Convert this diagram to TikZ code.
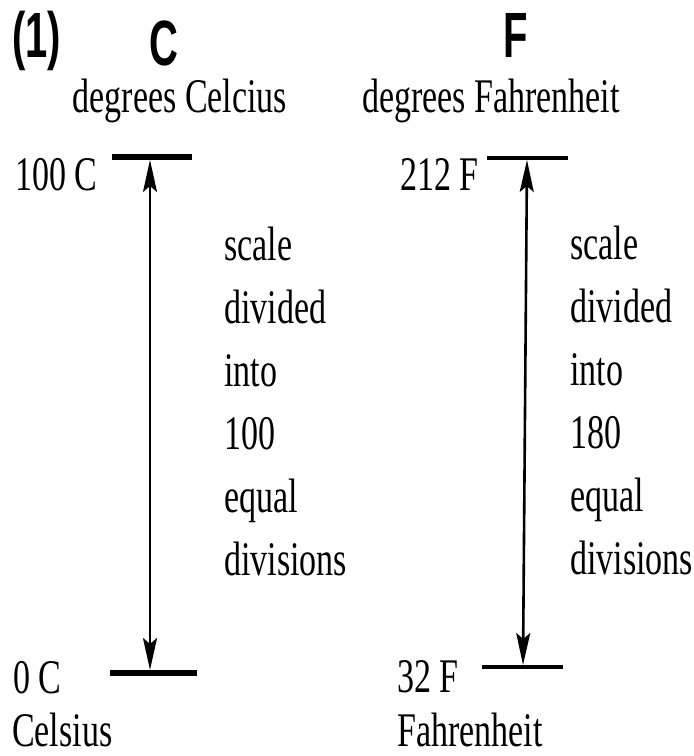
\documentclass[tikz,border=0pt]{standalone}
\usepackage{fontspec}
\setmainfont{Liberation Serif}
\newfontfamily\hdfont{Liberation Sans}
\usetikzlibrary{arrows.meta}
\begin{document}
\begin{tikzpicture}[x=1pt,y=1pt,
  txt/.style={inner sep=0pt, yscale=1.42, font=\fontsize{34}{44.5}\selectfont},
  hd/.style={inner sep=0pt, yscale=1.6, font=\hdfont\bfseries\fontsize{40}{48}\selectfont},
  thickbar/.style={line width=6pt},
  thinbar/.style={line width=3.5pt},
  scalearrow/.style={line width=2.6pt, {Stealth[length=32pt,width=14pt,inset=6pt]}-{Stealth[length=32pt,width=14pt,inset=6pt]}}]
\useasboundingbox (0,0) rectangle (694,-756);
% headings
\node[hd, anchor=base west] (num) at (12,-57) {(1)};
\node[hd, anchor=base] (Chd) at (164,-65) {C};
\node[hd, anchor=base] (Fhd) at (516,-57) {F};
\node[txt, anchor=base] (Cname) at (180,-112) {degrees Celcius};
\node[txt, anchor=base] (Fname) at (491,-112) {degrees Fahrenheit};
% end labels
\node[txt, anchor=base west] (C100) at (15,-190) {100 C};
\node[txt, anchor=base west] (F212) at (400,-190) {212 F};
\node[txt, anchor=base west] (C0) at (13,-693) {0 C};
\node[txt, anchor=base west] (F32) at (397,-692) {32 F};
\node[txt, anchor=base west] (Cel) at (12,-746) {Celsius};
\node[txt, anchor=base west] (Fah) at (397,-746) {Fahrenheit};
% descriptions
\node[txt, anchor=base west] (Cdesc) at (224,-260)
  {\begin{tabular}[t]{@{}l@{}}scale\\divided\\into\\100\\equal\\divisions\end{tabular}};
\node[txt, anchor=base west] (Fdesc) at (570,-259)
  {\begin{tabular}[t]{@{}l@{}}scale\\divided\\into\\180\\equal\\divisions\end{tabular}};
% bars
\coordinate (ctl) at (112,-157); \coordinate (ctr) at (192,-157);
\coordinate (cbl) at (110,-673); \coordinate (cbr) at (197,-673);
\coordinate (ftl) at (487,-158); \coordinate (ftr) at (568,-158);
\coordinate (fbl) at (482,-667); \coordinate (fbr) at (563,-667);
\draw[thickbar] (ctl) -- (ctr);
\draw[thickbar] (cbl) -- (cbr);
\draw[thinbar] (ftl) -- (ftr);
\draw[thinbar] (fbl) -- (fbr);
% arrows
\coordinate (ctop) at (150,-160); \coordinate (cbot) at (150,-670);
\coordinate (ftop) at (527,-160); \coordinate (fbot) at (523,-665);
\draw[scalearrow] (ctop) -- (cbot);
\draw[scalearrow] (ftop) -- (fbot);
\end{tikzpicture}
\end{document}
